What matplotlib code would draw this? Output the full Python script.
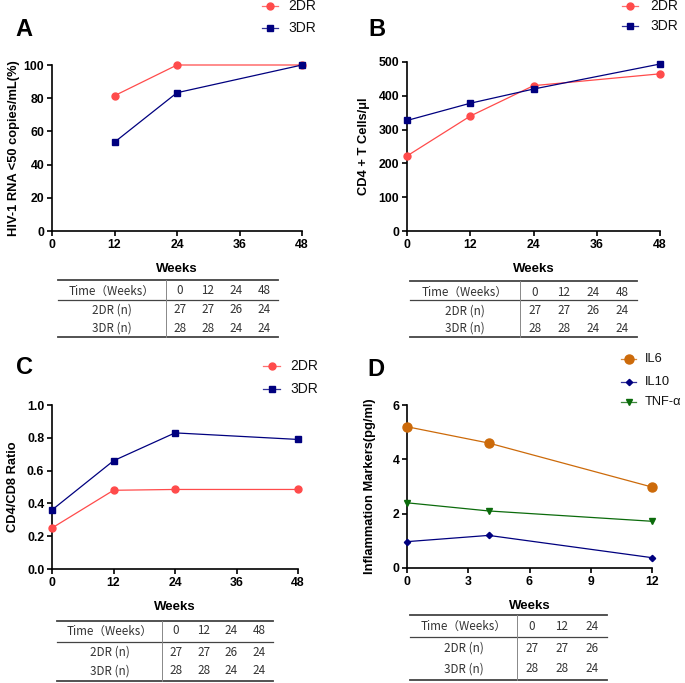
import numpy as np
import matplotlib
matplotlib.use("Agg")
import matplotlib.pyplot as plt
from matplotlib.lines import Line2D

# ---- data ----
weeks_a = [12, 24, 48]
a_2dr = [81.5, 100, 100]
a_3dr = [53.5, 83.3, 100]

weeks_bc = [0, 12, 24, 48]
b_2dr = [222, 340, 430, 465]
b_3dr = [327, 378, 420, 494]

c_2dr = [0.25, 0.48, 0.485, 0.485]
c_3dr = [0.36, 0.66, 0.83, 0.79]

weeks_d = [0, 4, 12]
d_il6 = [5.2, 4.6, 2.98]
d_il10 = [0.97, 1.2, 0.38]
d_tnf = [2.4, 2.1, 1.72]

table_cols_abc = ["0", "12", "24", "48"]
table_2dr_abc = ["27", "27", "26", "24"]
table_3dr_abc = ["28", "28", "24", "24"]
table_cols_d = ["0", "12", "24"]
table_2dr_d = ["27", "27", "26"]
table_3dr_d = ["28", "28", "24"]

W, H = 685, 683
fig = plt.figure(figsize=(W / 100, H / 100), dpi=100)
plt.rcParams['font.family'] = ['Liberation Sans', 'DejaVu Sans']

RED = '#FF4B4B'
NAVY = '#00007F'
ORANGE = '#CC6A0A'
GREEN = '#0B6B0B'
TICK_FS = 8.8


def fx(x):
    return x / W


def fy(y):
    return 1 - y / H


def make_axes(left, right, top, bottom):
    ax = fig.add_axes([fx(left), fy(bottom), fx(right - left), (bottom - top) / H])
    for s in ['top', 'right']:
        ax.spines[s].set_visible(False)
    for s in ['left', 'bottom']:
        ax.spines[s].set_linewidth(1.2)
    ax.tick_params(width=1.2, length=3.5, labelsize=TICK_FS, pad=2)
    return ax


def bold_ticks(ax):
    for lab in ax.get_xticklabels() + ax.get_yticklabels():
        lab.set_fontweight('bold')


def draw_legend(x0, x1, xt, ys, labels, styles, fs=10):
    for y, lab, st in zip(ys, labels, styles):
        fig.add_artist(Line2D([fx(x0), fx(x1)], [fy(y), fy(y)], transform=fig.transFigure,
                              color=st['color'], lw=0.9, alpha=0.8))
        fig.add_artist(Line2D([fx((x0 + x1) / 2)], [fy(y)], transform=fig.transFigure,
                              marker=st['marker'], ms=st['ms'], color=st['color'], lw=0))
        fig.text(fx(xt), fy(y), lab, fontsize=fs, va='center', ha='left', color='#111111')


def draw_table(left, right, sep, top, mid, bottom, rows_y, cols, r1, r2):
    tf = ['Noto Sans CJK SC', 'DejaVu Sans']
    for y, lw in [(top, 1.3), (mid, 0.9), (bottom, 1.3)]:
        fig.add_artist(Line2D([fx(left), fx(right)], [fy(y), fy(y)], transform=fig.transFigure,
                              color='#444444', lw=lw))
    fig.add_artist(Line2D([fx(sep), fx(sep)], [fy(top), fy(bottom)], transform=fig.transFigure,
                          color='#888888', lw=0.7))
    lab_x = (left + sep) / 2
    step = (right - sep) / len(cols)
    col_x = [sep + step * (i + 0.5) for i in range(len(cols))]
    rows = [("Time（Weeks）", cols), ("2DR (n)", r1), ("3DR (n)", r2)]
    for y, (name, vals) in zip(rows_y, rows):
        fig.text(fx(lab_x), fy(y), name, family=tf, fontsize=8.4, ha='center', va='center',
                 color='#333333')
        for x, v in zip(col_x, vals):
            fig.text(fx(x), fy(y), v, family=tf, fontsize=8.4, ha='center', va='center',
                     color='#333333')


s2 = dict(color=RED, marker='o', ms=5)
s3 = dict(color=NAVY, marker='s', ms=5)

# ---- Panel A ----
ax = make_axes(52, 302, 65, 231)
ax.plot(weeks_a, a_2dr, color=RED, lw=0.9, marker='o', ms=5, clip_on=False, zorder=3)
ax.plot(weeks_a, a_3dr, color=NAVY, lw=0.9, marker='s', ms=5, clip_on=False, zorder=3)
ax.set_xlim(0, 48)
ax.set_ylim(0, 100)
ax.set_xticks([0, 12, 24, 36, 48])
ax.set_yticks([0, 20, 40, 60, 80, 100])
bold_ticks(ax)
ax.set_xlabel("Weeks", fontsize=9.5, fontweight='bold', labelpad=9)
ax.set_ylabel("HIV-1 RNA <50 copies/mL(%)", fontsize=9.3, fontweight='bold', labelpad=3)
fig.text(fx(24), fy(30), "A", fontsize=17, fontweight='bold', ha='center', va='center')
draw_legend(262, 278, 288, [6, 28], ["2DR", "3DR"], [s2, s3])
draw_table(58, 278, 166, 280, 300, 337, [291, 310, 328], table_cols_abc, table_2dr_abc, table_3dr_abc)

# ---- Panel B ----
ax = make_axes(407, 660, 62, 231)
ax.plot(weeks_bc, b_2dr, color=RED, lw=0.9, marker='o', ms=5, clip_on=False, zorder=3)
ax.plot(weeks_bc, b_3dr, color=NAVY, lw=0.9, marker='s', ms=5, clip_on=False, zorder=3)
ax.set_xlim(0, 48)
ax.set_ylim(0, 500)
ax.set_xticks([0, 12, 24, 36, 48])
ax.set_yticks([0, 100, 200, 300, 400, 500])
bold_ticks(ax)
ax.set_xlabel("Weeks", fontsize=9.5, fontweight='bold', labelpad=9)
ax.set_ylabel("CD4 + T Cells/μl", fontsize=9.3, fontweight='bold', labelpad=6)
fig.text(fx(377), fy(30), "B", fontsize=17, fontweight='bold', ha='center', va='center')
draw_legend(622, 638, 650, [6, 26], ["2DR", "3DR"], [s2, s3])
draw_table(410, 637, 520, 281, 300, 337, [292, 311, 328], table_cols_abc, table_2dr_abc, table_3dr_abc)

# ---- Panel C ----
ax = make_axes(52, 298, 405, 569)
ax.plot(weeks_bc, c_2dr, color=RED, lw=0.9, marker='o', ms=5, clip_on=False, zorder=3)
ax.plot(weeks_bc, c_3dr, color=NAVY, lw=0.9, marker='s', ms=5, clip_on=False, zorder=3)
ax.set_xlim(0, 48)
ax.set_ylim(0, 1.0)
ax.set_xticks([0, 12, 24, 36, 48])
ax.set_yticks([0, 0.2, 0.4, 0.6, 0.8, 1.0])
ax.set_yticklabels(["0.0", "0.2", "0.4", "0.6", "0.8", "1.0"])
bold_ticks(ax)
ax.set_xlabel("Weeks", fontsize=9.5, fontweight='bold', labelpad=9)
ax.set_ylabel("CD4/CD8 Ratio", fontsize=9.3, fontweight='bold', labelpad=6)
fig.text(fx(25), fy(367), "C", fontsize=17, fontweight='bold', ha='center', va='center')
draw_legend(263, 280, 290, [366, 389], ["2DR", "3DR"], [s2, s3])
draw_table(57, 273, 162, 621, 642, 681, [631, 652, 671], table_cols_abc, table_2dr_abc, table_3dr_abc)

# ---- Panel D ----
ax = make_axes(407, 652, 405, 568)
ax.plot(weeks_d, d_il6, color=ORANGE, lw=0.9, marker='o', ms=6.5, clip_on=False, zorder=3)
ax.plot(weeks_d, d_il10, color=NAVY, lw=0.9, marker='D', ms=3.2, clip_on=False, zorder=3)
ax.plot(weeks_d, d_tnf, color=GREEN, lw=0.9, marker='v', ms=5, clip_on=False, zorder=3)
ax.set_xlim(0, 12)
ax.set_ylim(0, 6)
ax.set_xticks([0, 3, 6, 9, 12])
ax.set_yticks([0, 2, 4, 6])
bold_ticks(ax)
ax.set_xlabel("Weeks", fontsize=9.5, fontweight='bold', labelpad=9)
ax.set_ylabel("Inflammation Markers(pg/ml)", fontsize=9.3, fontweight='bold', labelpad=12)
fig.text(fx(376), fy(370), "D", fontsize=17, fontweight='bold', ha='center', va='center')
draw_legend(621, 636, 645, [359, 382, 402], ["IL6", "IL10", "TNF-α"],
            [dict(color=ORANGE, marker='o', ms=6.5), dict(color=NAVY, marker='D', ms=3.2),
             dict(color=GREEN, marker='v', ms=5)], fs=9.3)
draw_table(410, 607, 517, 615, 637, 680, [626, 648, 669], table_cols_d, table_2dr_d, table_3dr_d)

fig.savefig("out.png", dpi=100)
